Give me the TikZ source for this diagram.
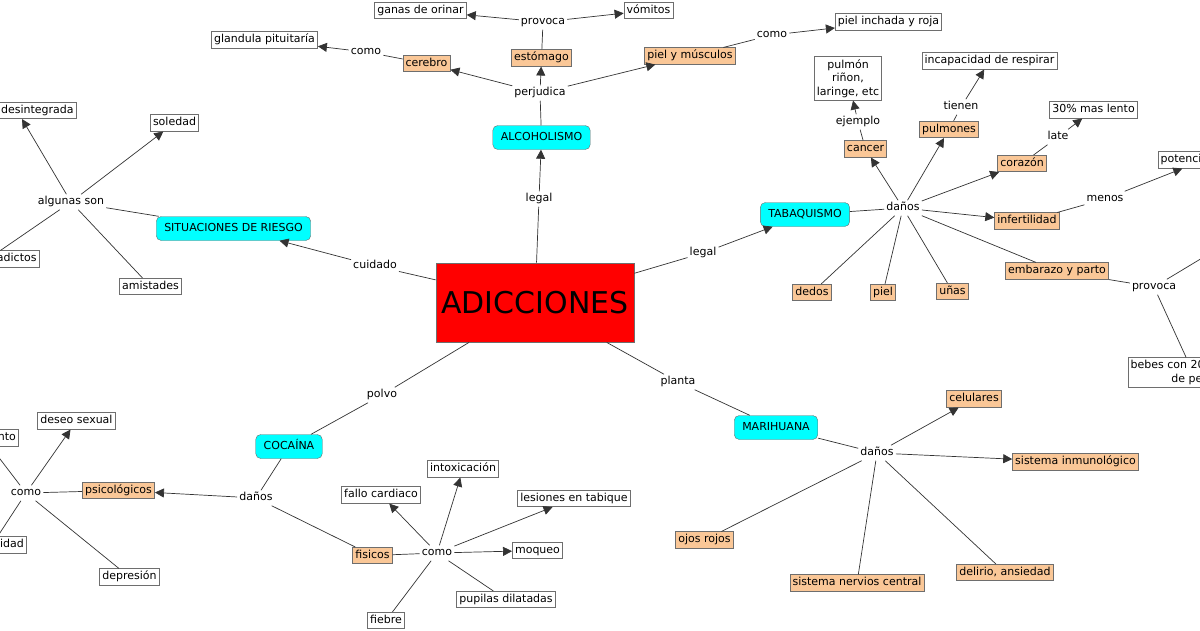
\documentclass[tikz,border=0pt]{standalone}
\usepackage{fontspec}
\setmainfont{DejaVu Sans}
\usetikzlibrary{arrows.meta}
\definecolor{mainColor}{HTML}{FF0000}
\definecolor{drugColor}{HTML}{00FFFF}
\definecolor{damageColor}{HTML}{FAC797}
\definecolor{edgeColor}{HTML}{333333}
\definecolor{boxColor}{HTML}{6E6E6E}
\tikzset{
  mapfont/.style={font=\fontsize{11}{13.5}\selectfont},
  drug/.style={mapfont, draw=boxColor, fill=drugColor, rounded corners=5pt, inner xsep=8pt, minimum height=24pt, text height=8.5pt, text depth=2.6pt},
  damage/.style={mapfont, draw=boxColor, fill=damageColor, line width=0.8pt, inner sep=2.6pt, text height=8.5pt, text depth=2.6pt},
  plain/.style={mapfont, draw=boxColor, fill=white, line width=0.8pt, inner sep=2.6pt, text height=8.5pt, text depth=2.6pt},
  plainmulti/.style={mapfont, draw=boxColor, fill=white, line width=0.8pt, inner sep=2.6pt, align=center},
  phrase/.style={mapfont, inner sep=2pt, text height=8.5pt, text depth=2.6pt},
  cmline/.style={draw=edgeColor, line width=0.7pt},
  cmarrow/.style={cmline, -{Triangle[length=9pt,width=9pt]}}
}
\begin{document}
\begin{tikzpicture}[x=1pt,y=-1pt]
  \useasboundingbox (0,0) rectangle (1200,630);
  \clip (0,0) rectangle (1200,630);
  \fill[white] (0,0) rectangle (1200,630);

  \node[draw=boxColor, fill=mainColor, line width=0.8pt, minimum width=198pt, minimum height=79pt, font=\fontsize{30}{30}\selectfont] (adic) at (535,302.5) {ADICCIONES};

  \node[phrase] (lgA) at (539,199) {legal};
  \node[drug] (alco) at (541.5,137.5) {ALCOHOLISMO};
  \node[phrase] (perj) at (540,93) {perjudica};
  \node[damage] (cereb) at (426.5,63.5) {cerebro};
  \node[damage] (estom) at (541.5,58) {estómago};
  \node[damage] (pielm) at (690,56) {piel y músculos};
  \node[phrase] (provA) at (543,22) {provoca};
  \node[plain] (ganas) at (420.5,10.5) {ganas de orinar};
  \node[plain] (vomit) at (648.5,10.5) {vómitos};
  \node[phrase] (comoC) at (366,52) {como};
  \node[plain] (gland) at (264.5,40) {glandula pituitaría};
  \node[phrase] (comoP) at (772,35) {como};
  \node[plain] (pieli) at (888.5,22) {piel inchada y roja};

  \node[phrase] (lgT) at (703,253) {legal};
  \node[drug] (tab) at (805,214.5) {TABAQUISMO};
  \node[phrase] (danT) at (903,208) {daños};
  \node[damage] (cancer) at (865.5,149) {cancer};
  \node[phrase] (ejem) at (858,122) {ejemplo};
  \node[plainmulti] (pulmon) at (848,78.5) {pulmón\\riñon,\\laringe, etc};
  \node[damage] (pulmones) at (949,129.5) {pulmones};
  \node[phrase] (tienen) at (961,107) {tienen};
  \node[plain] (incap) at (989.5,61) {incapacidad de respirar};
  \node[damage] (corazon) at (1022,163.5) {corazón};
  \node[phrase] (late) at (1058,137) {late};
  \node[plain] (lento) at (1093.5,110) {30\% mas lento};
  \node[damage] (infert) at (1027,221) {infertilidad};
  \node[phrase] (menos) at (1105,199) {menos};
  \node[plain] (poten) at (1204,160) {potencia sexual};
  \node[damage] (embar) at (1057,271) {embarazo y parto};
  \node[phrase] (provT) at (1154,287) {provoca};
  \node[plainmulti] (bebes) at (1193,372.5) {bebes con 20\% menos\\de peso};
  \coordinate (offT) at (1262,222);
  \node[damage] (dedos) at (812,292.5) {dedos};
  \node[damage] (piel) at (883,292.5) {piel};
  \node[damage] (unas) at (952.5,291.5) {uñas};

  \node[phrase] (cuid) at (375,266) {cuidado};
  \node[drug] (sit) at (233.5,228.5) {SITUACIONES DE RIESGO};
  \node[phrase] (algun) at (71,202) {algunas son};
  \node[plain] (famil) at (17,110.5) {familia desintegrada};
  \node[plain] (soled) at (174.5,123) {soledad};
  \node[plain] (famad) at (-12,259) {familiares adictos};
  \node[plain] (amist) at (150.5,286.5) {amistades};

  \node[phrase] (polvo) at (382,395) {polvo};
  \node[drug] (coca) at (289,446.5) {COCAÍNA};
  \node[phrase] (danC) at (256,498) {daños};
  \node[damage] (psico) at (118.5,490.5) {psicológicos};
  \node[phrase] (comoS) at (26,493) {como};
  \node[plain] (deseo) at (76.5,421) {deseo sexual};
  \node[plain] (aisl) at (-16,438) {aislamiento};
  \node[plain] (agres) at (-8,545) {agresividad};
  \node[plain] (depre) at (129.5,577) {depresión};
  \node[damage] (fisic) at (372.5,555.5) {fisicos};
  \node[phrase] (comoF) at (437,553) {como};
  \node[plain] (fallo) at (381,495) {fallo cardiaco};
  \node[plain] (intox) at (463,469) {intoxicación};
  \node[plain] (lesion) at (574,498.5) {lesiones en tabique};
  \node[plain] (moqueo) at (537.5,550.5) {moqueo};
  \node[plain] (pupil) at (506,599.5) {pupilas dilatadas};
  \node[plain] (fiebre) at (386,620.5) {fiebre};

  \node[phrase] (plant) at (678,382) {planta};
  \node[drug] (mari) at (776,427.5) {MARIHUANA};
  \node[phrase] (danM) at (877,453) {daños};
  \node[damage] (celul) at (974,399) {celulares};
  \node[damage] (inmun) at (1075.5,462) {sistema inmunológico};
  \node[damage] (ojos) at (704.5,540) {ojos rojos};
  \node[damage] (nerv) at (857,583) {sistema nervios central};
  \node[damage] (delir) at (1005,572.5) {delirio, ansiedad};

  \draw[cmline] (adic) -- (lgA);
  \draw[cmarrow] (lgA) -- (alco);
  \draw[cmline] (alco) -- (perj);
  \draw[cmarrow] (perj) -- (cereb);
  \draw[cmarrow] (perj) -- (estom);
  \draw[cmarrow] (perj) -- (pielm);
  \draw[cmline] (estom) -- (provA);
  \draw[cmarrow] (provA) -- (ganas);
  \draw[cmarrow] (provA) -- (vomit);
  \draw[cmline] (cereb) -- (comoC);
  \draw[cmarrow] (comoC) -- (gland);
  \draw[cmline] (pielm) -- (comoP);
  \draw[cmarrow] (comoP) -- (pieli);

  \draw[cmline] (adic) -- (lgT);
  \draw[cmarrow] (lgT) -- (tab);
  \draw[cmline] (tab) -- (danT);
  \draw[cmarrow] (danT) -- (cancer);
  \draw[cmarrow] (danT) -- (pulmones);
  \draw[cmarrow] (danT) -- (corazon);
  \draw[cmarrow] (danT) -- (infert);
  \draw[cmline] (danT) -- (embar);
  \draw[cmline] (danT) -- (dedos);
  \draw[cmline] (danT) -- (piel);
  \draw[cmline] (danT) -- (unas);
  \draw[cmline] (cancer) -- (ejem);
  \draw[cmarrow] (ejem) -- (pulmon);
  \draw[cmline] (pulmones) -- (tienen);
  \draw[cmarrow] (tienen) -- (incap);
  \draw[cmline] (corazon) -- (late);
  \draw[cmarrow] (late) -- (lento);
  \draw[cmline] (infert) -- (menos);
  \draw[cmarrow] (menos) -- (poten);
  \draw[cmline] (embar) -- (provT);
  \draw[cmline] (provT) -- (bebes);
  \draw[cmline] (provT) -- (offT);

  \draw[cmline] (adic) -- (cuid);
  \draw[cmarrow] (cuid) -- (sit);
  \draw[cmline] (sit) -- (algun);
  \draw[cmarrow] (algun) -- (famil);
  \draw[cmarrow] (algun) -- (soled);
  \draw[cmline] (algun) -- (famad);
  \draw[cmline] (algun) -- (amist);

  \draw[cmline] (adic) -- (polvo);
  \draw[cmline] (polvo) -- (coca);
  \draw[cmline] (coca) -- (danC);
  \draw[cmarrow] (danC) -- (psico);
  \draw[cmline] (danC) -- (fisic);
  \draw[cmline] (psico) -- (comoS);
  \draw[cmarrow] (comoS) -- (deseo);
  \draw[cmline] (comoS) -- (aisl);
  \draw[cmline] (comoS) -- (agres);
  \draw[cmline] (comoS) -- (depre);
  \draw[cmline] (fisic) -- (comoF);
  \draw[cmarrow] (comoF) -- (fallo);
  \draw[cmarrow] (comoF) -- (intox);
  \draw[cmarrow] (comoF) -- (lesion);
  \draw[cmarrow] (comoF) -- (moqueo);
  \draw[cmline] (comoF) -- (pupil);
  \draw[cmline] (comoF) -- (fiebre);

  \draw[cmline] (adic) -- (plant);
  \draw[cmline] (plant) -- (mari);
  \draw[cmline] (mari) -- (danM);
  \draw[cmarrow] (danM) -- (celul);
  \draw[cmarrow] (danM) -- (inmun);
  \draw[cmline] (danM) -- (ojos);
  \draw[cmline] (danM) -- (nerv);
  \draw[cmline] (danM) -- (delir);
\end{tikzpicture}
\end{document}
